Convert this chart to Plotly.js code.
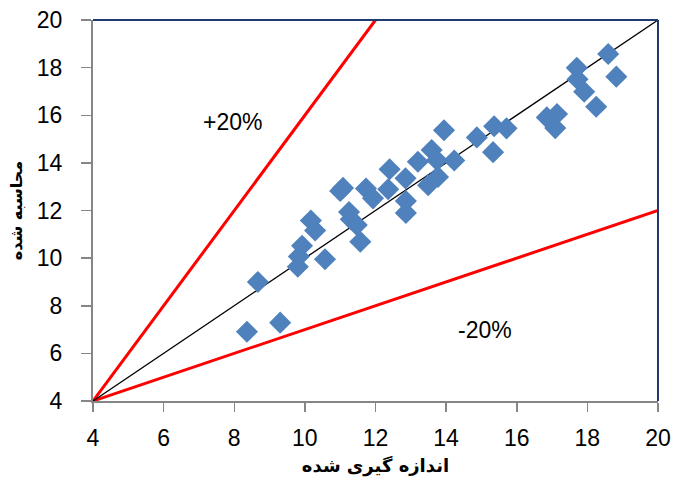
<!DOCTYPE html>
<html>
<head>
<meta charset="utf-8">
<script src="https://cdn.plot.ly/plotly-3.0.1.min.js"></script>
<style>html,body{margin:0;padding:0;background:#fff;}#chart{width:673px;height:481px;}</style>
</head>
<body>
<div id="chart"></div>
<script>
const measured = [8.36,8.67,9.30,9.80,9.83,9.92,10.57,10.17,10.29,11.00,11.08,11.25,11.30,11.47,11.57,11.73,11.93,12.36,12.40,12.85,12.86,12.86,13.20,13.49,13.59,13.74,13.77,13.94,14.23,14.87,15.36,15.33,15.71,16.85,17.14,17.09,17.70,17.72,17.91,18.25,18.59,18.82];
const calculated = [6.91,9.00,7.29,9.64,10.07,10.52,9.95,11.58,11.16,12.82,12.95,11.94,11.63,11.39,10.69,12.92,12.51,12.89,13.73,13.35,12.40,11.90,14.05,13.06,14.54,14.11,13.41,15.37,14.10,15.07,15.54,14.45,15.45,15.91,16.05,15.46,17.99,17.51,16.99,16.36,18.57,17.62];

const lineX = [4, 20];
const lineY = [4, 20];
const plusX = [4, 12];
const plusY = [4, 20];
const minusX = [4, 20];
const minusY = [4, 12];

const xTitle = 'اندازه گیری شده';
const yTitle = 'محاسبه شده';
const labelPlus = '+20%';
const labelMinus = '-20%';

const traces = [
  {x: plusX, y: plusY, mode: 'lines', line: {color: '#FF0000', width: 3}, hoverinfo: 'skip'},
  {x: minusX, y: minusY, mode: 'lines', line: {color: '#FF0000', width: 3}, hoverinfo: 'skip'},
  {x: lineX, y: lineY, mode: 'lines', line: {color: '#000000', width: 1.3}, hoverinfo: 'skip'},
  {x: measured, y: calculated, mode: 'markers', type: 'scatter',
   marker: {symbol: 'diamond', size: 17, color: '#4F81BD', line: {width: 0}}}
];

const axisFont = {family: 'Arial, "Liberation Sans", sans-serif', size: 23, color: '#000'};
const xTitleFont = {family: '"DejaVu Sans", Arial, sans-serif', size: 18, color: '#000', weight: 'bold'};
const yTitleFont = {family: '"DejaVu Sans", Arial, sans-serif', size: 16, color: '#000', weight: 'bold'};

const layout = {
  width: 673, height: 481,
  margin: {l: 93, r: 15, t: 20, b: 80},
  paper_bgcolor: '#fff', plot_bgcolor: '#fff',
  showlegend: false,
  xaxis: {
    range: [4, 20], dtick: 2, tick0: 4, showgrid: false, zeroline: false,
    showline: true, linecolor: '#868686', linewidth: 2, mirror: false,
    ticks: 'outside', ticklen: 9, tickcolor: '#868686', tickwidth: 1.5,
    ticklabelstandoff: 6,
    tickfont: axisFont, automargin: false,
    title: {text: xTitle, font: xTitleFont, standoff: 10}
  },
  yaxis: {
    range: [4, 20], dtick: 2, tick0: 4, showgrid: false, zeroline: false,
    showline: true, linecolor: '#868686', linewidth: 2,
    ticks: 'outside', ticklen: 10, tickcolor: '#868686', tickwidth: 1.5,
    ticklabelstandoff: 14,
    tickfont: axisFont, automargin: false,
    title: {text: yTitle, font: yTitleFont, standoff: 10}
  },
  shapes: [
    {type: 'line', xref: 'paper', yref: 'paper', x0: 0, x1: 1, y0: 1, y1: 1, line: {color: '#1F3A6E', width: 2}},
    {type: 'line', xref: 'paper', yref: 'paper', x0: 1, x1: 1, y0: 0, y1: 1, line: {color: '#1F3A6E', width: 2}}
  ],
  annotations: [
    {x: 7.96, y: 15.72, text: labelPlus, showarrow: false, font: {family: 'Arial, "Liberation Sans", sans-serif', size: 23, color: '#000'}},
    {x: 15.1, y: 6.98, text: labelMinus, showarrow: false, font: {family: 'Arial, "Liberation Sans", sans-serif', size: 23, color: '#000'}}
  ]
};

Plotly.newPlot('chart', traces, layout, {displayModeBar: false, staticPlot: true});
</script>
</body>
</html>
